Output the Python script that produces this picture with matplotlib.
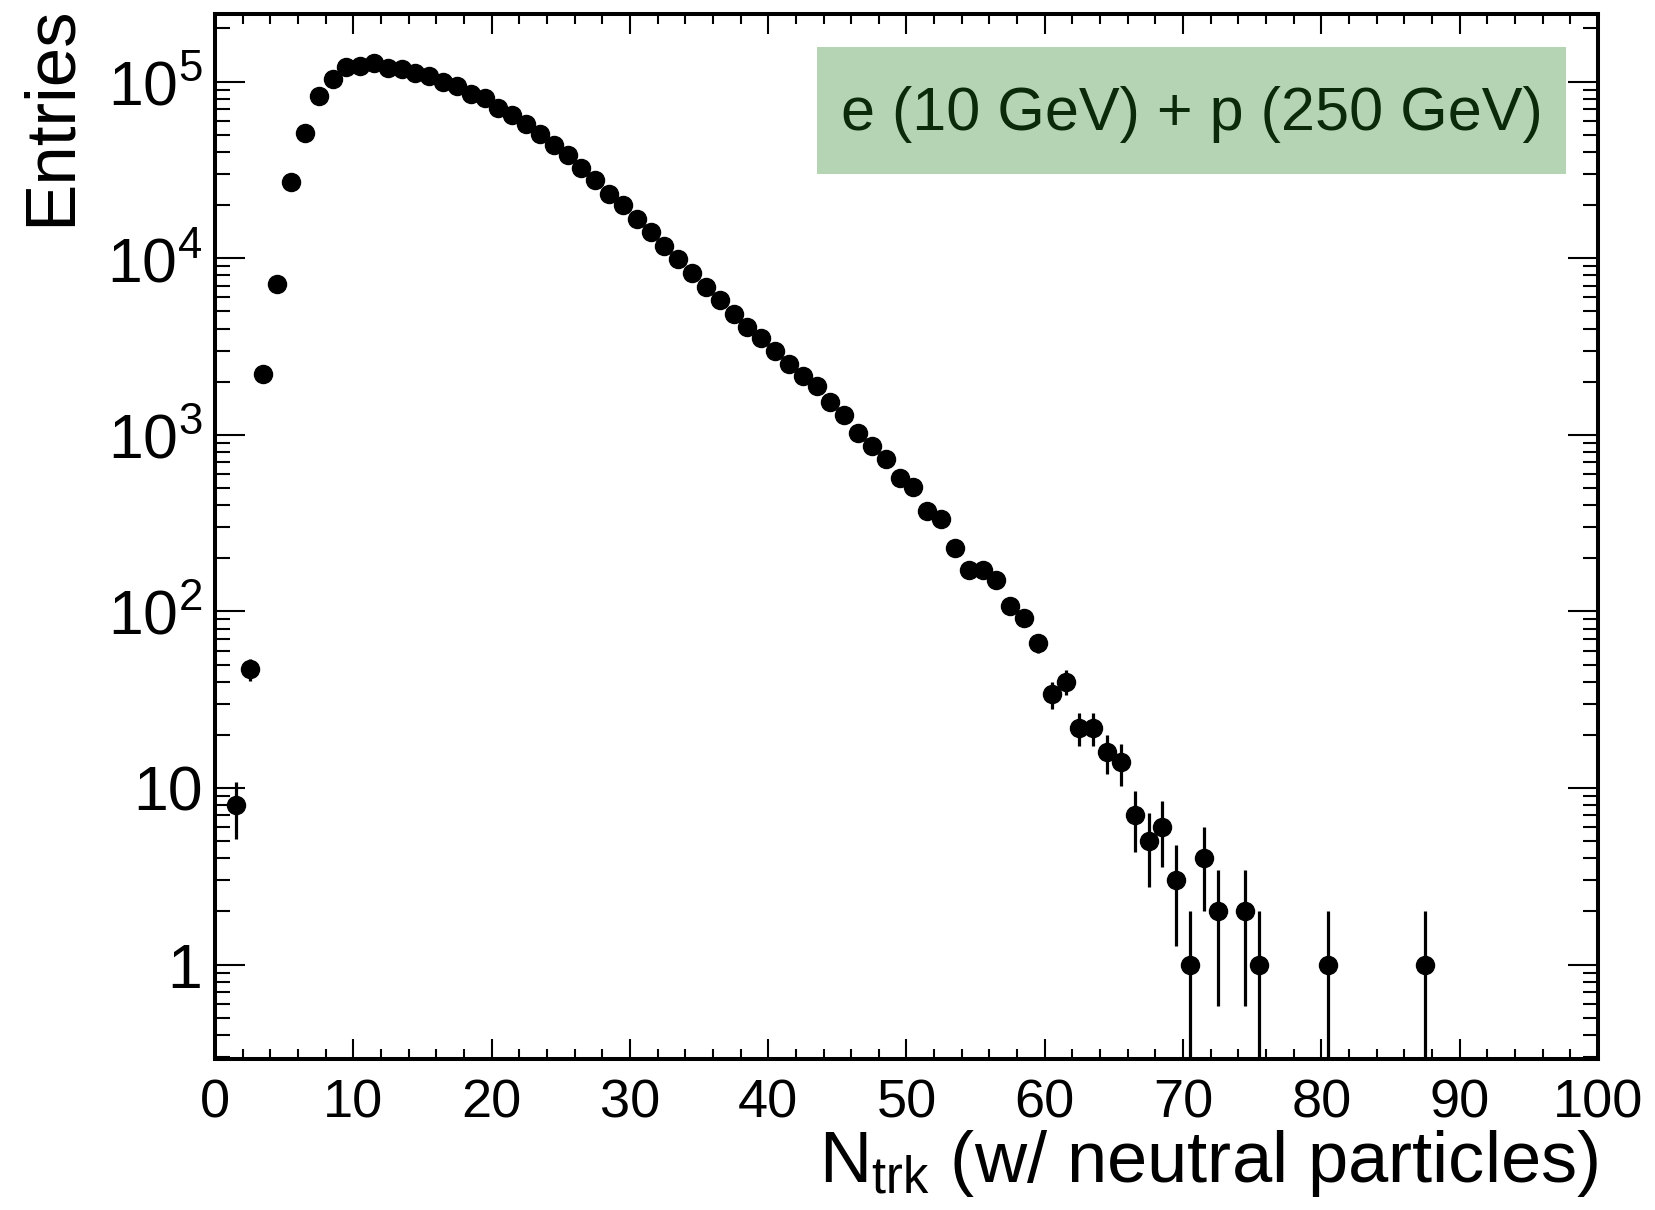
"""
Track multiplicity (including neutral particles) for e (10 GeV) + p (250 GeV),
drawn ROOT-style: black points with Poisson error bars on a log y axis.
"""

import matplotlib

matplotlib.use("Agg")
import matplotlib.pyplot as plt  # noqa: E402
import numpy as np  # noqa: E402
from matplotlib.ticker import FixedLocator, LogLocator, MultipleLocator, NullFormatter  # noqa: E402

# bin centres (unit-width bins) and entries, empty bins left out
ntrk = [
    1.5, 2.5, 3.5, 4.5, 5.5, 6.5, 7.5, 8.5, 9.5, 10.5,
    11.5, 12.5, 13.5, 14.5, 15.5, 16.5, 17.5, 18.5, 19.5, 20.5,
    21.5, 22.5, 23.5, 24.5, 25.5, 26.5, 27.5, 28.5, 29.5, 30.5,
    31.5, 32.5, 33.5, 34.5, 35.5, 36.5, 37.5, 38.5, 39.5, 40.5,
    41.5, 42.5, 43.5, 44.5, 45.5, 46.5, 47.5, 48.5, 49.5, 50.5,
    51.5, 52.5, 53.5, 54.5, 55.5, 56.5, 57.5, 58.5, 59.5, 60.5,
    61.5, 62.5, 63.5, 64.5, 65.5, 66.5, 67.5, 68.5, 69.5, 70.5,
    71.5, 72.5, 74.5, 75.5, 80.5, 87.5,
]
entries = [
    8, 47, 2200, 7150, 26900, 51000, 83400, 103500, 121600, 122700,
    127000, 119000, 118000, 111500, 107700, 99100, 94500, 85200, 80500, 71300,
    64800, 57400, 50800, 43700, 38300, 32300, 27800, 23200, 19900, 16600,
    14000, 11700, 9870, 8260, 6900, 5800, 4820, 4100, 3550, 3000,
    2510, 2160, 1880, 1540, 1300, 1030, 869, 730, 573, 505,
    371, 334, 228, 172, 172, 150, 108, 92, 66, 34,
    40, 22, 22, 16, 14, 7, 5, 6, 3, 1,
    4, 2, 2, 1, 1, 1,
]

x_ticks = [0, 10, 20, 30, 40, 50, 60, 70, 80, 90, 100]
y_ticks = [1, 10, 100, 1000, 10000, 100000]
y_tick_labels = ["1", "10", "$10^{2}$", "$10^{3}$", "$10^{4}$", "$10^{5}$"]

label_text = "e (10 GeV) + p (250 GeV)"


def plot_ntrk(output_path: str = "out.png"):
    plt.rcParams["font.family"] = ["Liberation Sans", "DejaVu Sans"]
    plt.rcParams["mathtext.fontset"] = "custom"
    plt.rcParams["mathtext.rm"] = "Liberation Sans"
    plt.rcParams["mathtext.it"] = "Liberation Sans:italic"
    plt.rcParams["mathtext.bf"] = "Liberation Sans:bold"

    x = np.array(ntrk)
    y = np.array(entries, dtype=float)
    err = np.sqrt(y)
    # a 1 +- 1 bin has to run down to the bottom of the frame
    err_lo = np.where(y - err <= 0, y - 0.01, err)

    fig = plt.figure(figsize=(16.56, 12.10), dpi=100)
    ax = fig.add_axes([0.1298, 0.1248, 0.8352, 0.864])

    ax.errorbar(
        x, y, yerr=[err_lo, err],
        fmt="o", color="black", markersize=13,
        elinewidth=2.3, capsize=0, zorder=3,
    )

    ax.set_yscale("log")
    ax.set_xlim(0, 100)
    ax.set_ylim(0.292, 2.43e5)

    ax.xaxis.set_major_locator(FixedLocator(x_ticks))
    ax.xaxis.set_minor_locator(MultipleLocator(2))
    ax.set_xticklabels([str(t) for t in x_ticks])
    ax.yaxis.set_major_locator(FixedLocator(y_ticks))
    ax.yaxis.set_minor_locator(LogLocator(base=10, subs=np.arange(2, 10), numticks=20))
    ax.yaxis.set_minor_formatter(NullFormatter())
    ax.set_yticklabels(y_tick_labels)

    for side in ax.spines.values():
        side.set_linewidth(2.9)

    ax.tick_params(axis="both", which="both", direction="in", top=True, right=True,
                   width=1.5, color="black")
    ax.tick_params(axis="x", which="major", length=14.5, labelsize=39, pad=14)
    ax.tick_params(axis="x", which="minor", length=7.5)
    ax.tick_params(axis="y", which="major", length=21.5, labelsize=45, pad=9)
    ax.tick_params(axis="y", which="minor", length=11)

    ax.set_xlabel("N$_{\\mathrm{trk}}$ (w/ neutral particles)", fontsize=52, loc="right", labelpad=0)
    ax.set_ylabel("Entries", fontsize=51, loc="top")
    ax.yaxis.set_label_coords(-0.094, 1.008)

    # beam label on a light green box
    box_x0 = (817.5 - 215) / 1383
    box_y0 = (1059 - 174) / 1045.5
    box_w = (1565.5 - 817.5) / 1383
    box_h = (174 - 46.5) / 1045.5
    ax.add_patch(plt.Rectangle(
        (box_x0, box_y0), box_w, box_h,
        transform=ax.transAxes, facecolor="#b4d4b4", edgecolor="none", zorder=1,
    ))
    ax.text(
        box_x0 + box_w / 2, (1059 - 130) / 1045.5, label_text,
        transform=ax.transAxes, ha="center", va="baseline",
        fontsize=44, color="#0a2a0a", zorder=2,
    )

    fig.savefig(output_path, dpi=100)
    plt.close(fig)


if __name__ == "__main__":
    plot_ntrk()
